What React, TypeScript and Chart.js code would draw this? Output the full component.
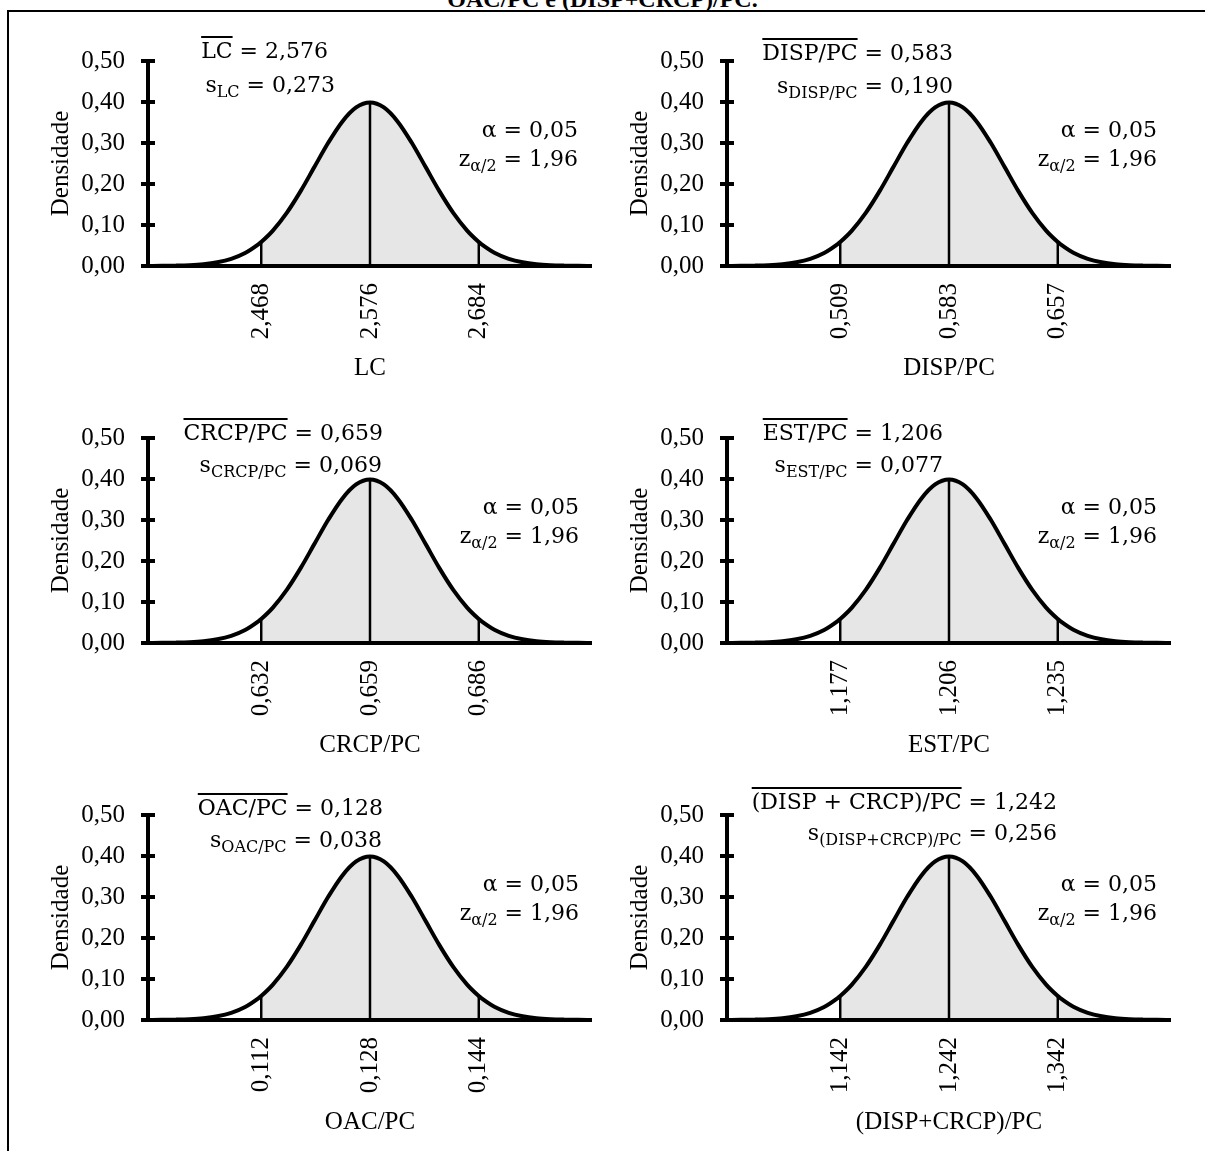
import React, { useEffect, useRef } from "react";
import { Chart, registerables } from "chart.js";

Chart.register(...registerables);

// ---- data ----
const zGrid = [-4, -3.75, -3.5, -3.25, -3, -2.75, -2.5, -2.25, -2, -1.96, -1.75, -1.5, -1.25, -1, -0.75, -0.5, -0.25, 0, 0.25, 0.5, 0.75, 1, 1.25, 1.5, 1.75, 1.96, 2, 2.25, 2.5, 2.75, 3, 3.25, 3.5, 3.75, 4];
const densityValues = [0.0001, 0.0004, 0.0009, 0.002, 0.0044, 0.0091, 0.0175, 0.0317, 0.054, 0.0584, 0.0863, 0.1295, 0.1826, 0.242, 0.3011, 0.3521, 0.3867, 0.3989, 0.3867, 0.3521, 0.3011, 0.242, 0.1826, 0.1295, 0.0863, 0.0584, 0.054, 0.0317, 0.0175, 0.0091, 0.0044, 0.002, 0.0009, 0.0004, 0.0001];
const markerZ = [-1.96, 0, 1.96];
const markerDensity = [0.0584, 0.3989, 0.0584];
const yTicks = [0, 0.1, 0.2, 0.3, 0.4, 0.5];

const axisTitles = ["LC", "DISP/PC", "CRCP/PC", "EST/PC", "OAC/PC", "(DISP+CRCP)/PC"];
const meanNames = ["LC", "DISP/PC", "CRCP/PC", "EST/PC", "OAC/PC", "(DISP + CRCP)/PC"];
const sdNames = ["LC", "DISP/PC", "CRCP/PC", "EST/PC", "OAC/PC", "(DISP+CRCP)/PC"];
const meanValues = ["2,576", "0,583", "0,659", "1,206", "0,128", "1,242"];
const sdValues = ["0,273", "0,190", "0,069", "0,077", "0,038", "0,256"];
const lcTicks = ["2,468", "2,576", "2,684"];
const dispTicks = ["0,509", "0,583", "0,657"];
const crcpTicks = ["0,632", "0,659", "0,686"];
const estTicks = ["1,177", "1,206", "1,235"];
const oacTicks = ["0,112", "0,128", "0,144"];
const dispCrcpTicks = ["1,142", "1,242", "1,342"];
const tickSets = [lcTicks, dispTicks, crcpTicks, estTicks, oacTicks, dispCrcpTicks];
const alphaText = "0,05";
const zText = "1,96";

// ---- layout (positions only) ----
const panelBoxes = [
  { ax: 148, ty: 61, meanR: 328, meanY: 51, sdR: 335, sdY: 85, alphaR: 578 },
  { ax: 727, ty: 61, meanR: 953, meanY: 53, sdR: 953, sdY: 86, alphaR: 1157 },
  { ax: 148, ty: 438, meanR: 383, meanY: 433, sdR: 382, sdY: 465, alphaR: 579 },
  { ax: 727, ty: 438, meanR: 943, meanY: 433, sdR: 943, sdY: 465, alphaR: 1157 },
  { ax: 148, ty: 815, meanR: 383, meanY: 808, sdR: 382, sdY: 840, alphaR: 579 },
  { ax: 727, ty: 815, meanR: 1057, meanY: 802, sdR: 1057, sdY: 833, alphaR: 1157 },
];

const PAGE_W = 1205;
const CANVAS_W = 572;
const CANVAS_H = 345;
const Y_AXIS_W = 118;
const PAD_TOP = 20;

const serif = "'Liberation Serif', 'Times New Roman', serif";
const mathFont = "'DejaVu Serif', serif";
const chartFont = { family: serif, size: 25 };

const axesPlugin = {
  id: "crossAxes",
  afterDatasetsDraw(chart: any) {
    const { ctx, chartArea, scales } = chart;
    const ys = scales.y;
    const xs = scales.x;
    const ax = chartArea.left;
    const y0 = ys.getPixelForValue(0);
    const yTop = ys.getPixelForValue(0.5);
    ctx.save();
    ctx.strokeStyle = "#000";
    ctx.lineWidth = 4;
    ctx.lineCap = "butt";
    ctx.beginPath();
    ctx.moveTo(ax, yTop - 2);
    ctx.lineTo(ax, y0 + 2);
    ctx.stroke();
    ctx.beginPath();
    ctx.moveTo(ax - 7, y0);
    ctx.lineTo(xs.getPixelForValue(4), y0);
    ctx.stroke();
    for (const t of yTicks) {
      if (t === 0) continue;
      const py = ys.getPixelForValue(t);
      ctx.beginPath();
      ctx.moveTo(ax - 7, py);
      ctx.lineTo(ax + 7, py);
      ctx.stroke();
    }
    ctx.restore();
  },
};

function Panel({ idx }: { idx: number }) {
  const ref = useRef<HTMLCanvasElement | null>(null);
  const box = panelBoxes[idx];
  const left = box.ax - Y_AXIS_W;
  const top = box.ty - PAD_TOP;

  useEffect(() => {
    const curve = zGrid.map((z, i) => ({ x: z, y: densityValues[i] }));
    const shaded = zGrid
      .map((z, i) => ({ x: z, y: densityValues[i] }))
      .filter((p) => p.x >= markerZ[0]);
    const markers = markerZ.map((z, k) => ({
      type: "scatter" as const,
      data: [
        { x: z, y: 0 },
        { x: z, y: markerDensity[k] },
      ],
      showLine: true,
      borderColor: "#000",
      borderWidth: 2.5,
      pointRadius: 0,
      tension: 0,
      fill: false,
      order: 1,
    }));
    const ticks = tickSets[idx];
    const chart = new Chart(ref.current as HTMLCanvasElement, {
      type: "scatter",
      data: {
        datasets: [
          {
            data: curve,
            showLine: true,
            borderColor: "#000",
            borderWidth: 4,
            pointRadius: 0,
            cubicInterpolationMode: "monotone",
            fill: false,
            order: 0,
          } as any,
          ...markers,
          {
            data: shaded,
            showLine: true,
            borderColor: "rgba(0,0,0,0)",
            borderWidth: 0,
            backgroundColor: "#e6e6e6",
            pointRadius: 0,
            cubicInterpolationMode: "monotone",
            fill: "origin",
            order: 2,
          } as any,
        ],
      },
      options: {
        responsive: false,
        animation: false,
        events: [],
        layout: { padding: { top: PAD_TOP, right: 10, left: 0, bottom: 0 } },
        plugins: { legend: { display: false }, tooltip: { enabled: false } },
        scales: {
          x: {
            type: "linear",
            min: -4,
            max: 4,
            grid: { display: false, drawTicks: false },
            border: { display: false },
            afterBuildTicks: (s: any) => {
              s.ticks = markerZ.map((v) => ({ value: v }));
            },
            afterFit: (s: any) => {
              s.height = 120;
              s.paddingLeft = 0;
              s.paddingRight = 0;
            },
            ticks: {
              autoSkip: false,
              minRotation: 90,
              maxRotation: 90,
              padding: 17,
              color: "#000",
              font: chartFont,
              callback: (_v: any, i: number) => ticks[i],
            },
            title: {
              display: true,
              text: axisTitles[idx],
              color: "#000",
              font: chartFont,
              padding: { top: 0, bottom: 3 },
            },
          },
          y: {
            type: "linear",
            min: 0,
            max: 0.5,
            grid: { display: false, drawTicks: false },
            border: { display: false },
            afterBuildTicks: (s: any) => {
              s.ticks = yTicks.map((v) => ({ value: v }));
            },
            afterFit: (s: any) => {
              s.width = Y_AXIS_W;
              s.paddingTop = 0;
              s.paddingBottom = 0;
            },
            ticks: {
              padding: 23,
              color: "#000",
              font: chartFont,
              callback: (v: any) => Number(v).toFixed(2).replace(".", ","),
            },
            title: {
              display: true,
              text: "Densidade",
              color: "#000",
              font: chartFont,
              padding: { top: 16, bottom: 0 },
            },
          },
        },
      } as any,
      plugins: [axesPlugin],
    });
    return () => chart.destroy();
  }, [idx]);

  return (
    <canvas
      ref={ref}
      width={CANVAS_W}
      height={CANVAS_H}
      style={{ position: "absolute", left, top, width: CANVAS_W, height: CANVAS_H }}
    />
  );
}

const subStyle: React.CSSProperties = { fontSize: 16, verticalAlign: "-5px" };

function Line({ right, y, children }: { right: number; y: number; children: React.ReactNode }) {
  return (
    <div
      style={{
        position: "absolute",
        right: PAGE_W - right,
        top: y - 11,
        lineHeight: "22px",
        fontFamily: mathFont,
        fontSize: 22,
        whiteSpace: "nowrap",
        color: "#000",
      }}
    >
      {children}
    </div>
  );
}

function Annotations({ idx }: { idx: number }) {
  const b = panelBoxes[idx];
  return (
    <>
      <Line right={b.meanR} y={b.meanY}>
        <span style={{ textDecoration: "overline" }}>{meanNames[idx]}</span> = {meanValues[idx]}
      </Line>
      <Line right={b.sdR} y={b.sdY}>
        s<span style={subStyle}>{sdNames[idx]}</span> = {sdValues[idx]}
      </Line>
      <Line right={b.alphaR} y={b.ty + 69}>
        α = {alphaText}
      </Line>
      <Line right={b.alphaR} y={b.ty + 97.5}>
        z<span style={subStyle}>α/2</span> = {zText}
      </Line>
    </>
  );
}

export default function App() {
  return (
    <div
      style={{
        position: "absolute",
        left: 0,
        top: 0,
        width: PAGE_W,
        height: 1151,
        overflow: "hidden",
        background: "#fff",
      }}
    >
      <div
        style={{
          position: "absolute",
          left: 0,
          top: -13,
          width: PAGE_W,
          textAlign: "center",
          fontFamily: serif,
          fontWeight: "bold",
          fontSize: 24,
          lineHeight: "24px",
          color: "#000",
        }}
      >
        OAC/PC e (DISP+CRCP)/PC.
      </div>
      <div style={{ position: "absolute", left: 7, top: 10, width: 1198, height: 2, background: "#000" }} />
      <div style={{ position: "absolute", left: 7, top: 10, width: 2, height: 1141, background: "#000" }} />
      {panelBoxes.map((_, i) => (
        <Panel key={"p" + i} idx={i} />
      ))}
      {panelBoxes.map((_, i) => (
        <Annotations key={"a" + i} idx={i} />
      ))}
    </div>
  );
}
